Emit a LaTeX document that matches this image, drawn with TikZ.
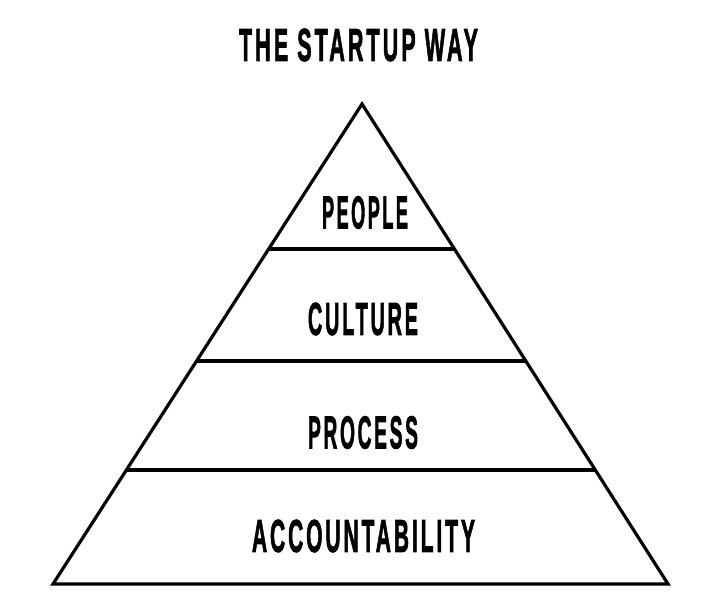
\documentclass[tikz,border=0pt]{standalone}
\usepackage{fontspec}
\usepackage{graphicx}
\usetikzlibrary{calc}
\newfontfamily\labelfont[LetterSpace=14,FakeBold=2.2]{Liberation Sans}
\newcommand{\lbl}[2]{\resizebox{#1pt}{\height}{\fontsize{46}{46}\selectfont\labelfont\bfseries #2}}
\begin{document}
\begin{tikzpicture}[x=1pt,y=-1pt,
  edge/.style={line width=3.2pt,line join=miter,black},
  tier/.style={inner sep=0pt,anchor=center,text=black}]
\useasboundingbox (0,0) rectangle (713,611);
\fill[white] (0,0) rectangle (713,611);
\coordinate (apex) at (362,104);
\coordinate (bl) at (53,584);
\coordinate (br) at (668,584);
\draw[edge] (apex) -- (bl) -- (br) -- cycle;
\coordinate (l1) at ($(apex)!0.302!(bl)$);
\coordinate (r1) at ($(apex)!0.302!(br)$);
\coordinate (l2) at ($(apex)!0.5354!(bl)$);
\coordinate (r2) at ($(apex)!0.5354!(br)$);
\coordinate (l3) at ($(apex)!0.7625!(bl)$);
\coordinate (r3) at ($(apex)!0.7625!(br)$);
\draw[edge] (l1) -- (r1);
\draw[edge] (l2) -- (r2);
\draw[edge] (l3) -- (r3);
\node[tier] (title) at (358.5,45) {\lbl{239}{THE STARTUP WAY}};
\node[tier] (people) at (365,212.5) {\lbl{86}{PEOPLE}};
\node[tier] (culture) at (363,319) {\lbl{110}{CULTURE}};
\node[tier] (process) at (363,432.5) {\lbl{110}{PROCESS}};
\node[tier] (acc) at (363.5,536) {\lbl{223}{ACCOUNTABILITY}};
\end{tikzpicture}
\end{document}
